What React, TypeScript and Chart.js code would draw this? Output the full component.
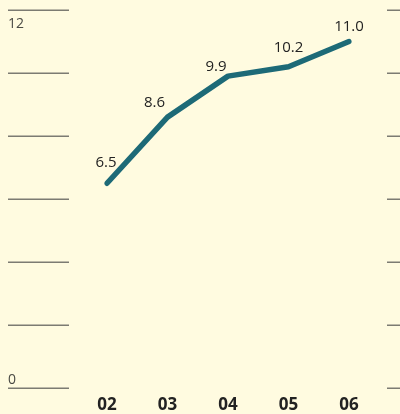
import React, { useEffect, useRef } from "react";
import { Chart, registerables } from "chart.js";

Chart.register(...registerables);

const categories = ["02", "03", "04", "05", "06"];
const values = [6.5, 8.6, 9.9, 10.2, 11.0];
const valueLabels = ["6.5", "8.6", "9.9", "10.2", "11.0"];
const yTicks = [0, 2, 4, 6, 8, 10, 12];
const yTickLabels: Record<number, string> = { 0: "0", 12: "12" };

const BG = "#FFFBE0";
const LINE = "#1D6A77";
const GRID = "#7C7B72";
const FONT = "'Open Sans', 'Noto Sans', sans-serif";

// label offsets relative to point (style only)
const labelOffsets = [
  [-1, -21],
  [-13, -14],
  [-12, -9],
  [0, -19],
  [0, -15],
];

const customPlugin = {
  id: "custom",
  beforeDraw(chart: any) {
    const { ctx, width, height } = chart;
    ctx.save();
    ctx.fillStyle = BG;
    ctx.fillRect(0, 0, width, height);
    const ys = chart.scales.y;
    ctx.strokeStyle = GRID;
    ctx.lineWidth = 1.5;
    yTicks.forEach((v) => {
      const y = Math.round(ys.getPixelForValue(v)) + 0.25;
      ctx.beginPath();
      ctx.moveTo(8, y);
      ctx.lineTo(69, y);
      ctx.moveTo(387, y);
      ctx.lineTo(400, y);
      ctx.stroke();
    });
    ctx.fillStyle = "#4a4a44";
    ctx.font = `14px ${FONT}`;
    ctx.textAlign = "left";
    yTicks.forEach((v) => {
      const lab = yTickLabels[v];
      if (!lab) return;
      const y = ys.getPixelForValue(v);
      if (v === 0) {
        ctx.textBaseline = "bottom";
        ctx.fillText(lab, 8, y - 1);
      } else {
        ctx.textBaseline = "top";
        ctx.fillText(lab, 8, y + 7);
      }
    });
    ctx.restore();
  },
  afterDraw(chart: any) {
    const { ctx } = chart;
    const xs = chart.scales.x;
    const ys = chart.scales.y;
    ctx.save();
    ctx.fillStyle = "#222222";
    ctx.textAlign = "center";
    ctx.textBaseline = "middle";
    ctx.font = `bold 17px ${FONT}`;
    categories.forEach((c, i) => {
      ctx.fillText(c, xs.getPixelForValue(i), 405);
    });
    ctx.font = `15px ${FONT}`;
    values.forEach((v, i) => {
      const x = xs.getPixelForValue(i);
      const y = ys.getPixelForValue(v);
      const [dx, dy] = labelOffsets[i];
      ctx.fillText(valueLabels[i], x + dx, y + dy);
    });
    ctx.restore();
  },
};

export default function App() {
  const ref = useRef<HTMLCanvasElement>(null);
  useEffect(() => {
    document.body.style.margin = "0";
    const chart = new Chart(ref.current!, {
      type: "line",
      data: {
        labels: categories,
        datasets: [
          {
            data: values,
            borderColor: LINE,
            borderWidth: 5.5,
            borderCapStyle: "round",
            borderJoinStyle: "round",
            pointRadius: 0,
            tension: 0,
            fill: false,
          },
        ],
      },
      options: {
        animation: false,
        responsive: false,
        layout: { padding: { left: 107, right: 51, top: 10, bottom: 26 } },
        plugins: { legend: { display: false }, tooltip: { enabled: false } },
        scales: {
          x: { display: false, offset: false },
          y: { display: false, min: 0, max: 12 },
        },
      },
      plugins: [customPlugin],
    });
    return () => chart.destroy();
  }, []);
  return (
    <div style={{ width: 400, height: 414 }}>
      <canvas ref={ref} width={400} height={414} style={{ display: "block" }} />
    </div>
  );
}
